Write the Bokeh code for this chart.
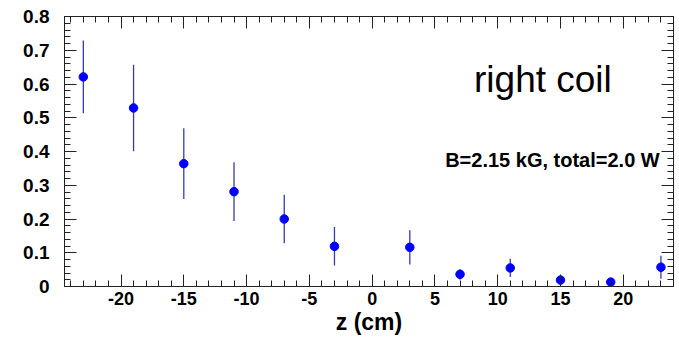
from bokeh.plotting import figure
from bokeh.models import (ColumnDataSource, LinearAxis, FixedTicker, Whisker, Label,
                          CustomJSTickFormatter, Range1d)
from bokeh.embed import file_html
from bokeh.resources import INLINE

# ---- data ----
z_cm = [-23, -19, -15, -11, -7, -3, 3, 7, 11, 15, 19, 23]
power = [0.621, 0.529, 0.364, 0.281, 0.200, 0.119, 0.116, 0.036, 0.055, 0.019, 0.013, 0.057]
power_err = [0.108, 0.128, 0.105, 0.087, 0.072, 0.057, 0.051, 0.016, 0.027, 0.010, 0.005, 0.034]

x_major = [-20, -15, -10, -5, 0, 5, 10, 15, 20]
x_minor = list(range(-24, 25))
y_major = [0, 0.1, 0.2, 0.3, 0.4, 0.5, 0.6, 0.7, 0.8]
y_minor = [i / 50 for i in range(0, 41)]

title_text = "right coil"
info_text = "B=2.15 kG, total=2.0 W"
x_label = "z (cm)"

lower = [v - e for v, e in zip(power, power_err)]
upper = [v + e for v, e in zip(power, power_err)]
src = ColumnDataSource(dict(x=z_cm, y=power, lower=lower, upper=upper))

FONT = "Liberation Sans"

p = figure(width=679, height=341, output_backend="svg", toolbar_location=None,
           x_range=Range1d(-24.5, 24), y_range=Range1d(0, 0.8),
           x_axis_type=None, y_axis_type=None,
           min_border_left=64, min_border_right=6, min_border_top=16, min_border_bottom=55)
p.grid.visible = False
p.outline_line_color = "#222222"
p.outline_line_width = 1
p.background_fill_color = "white"
p.border_fill_color = "white"


def style_axis(ax, labels=True):
    ax.major_tick_in = 12
    ax.major_tick_out = 0
    ax.minor_tick_in = 6
    ax.minor_tick_out = 0
    ax.axis_line_color = "#222222"
    ax.major_tick_line_color = "#222222"
    ax.minor_tick_line_color = "#222222"
    ax.major_label_text_color = "black"
    ax.axis_label_text_color = "black"
    if not labels:
        ax.major_label_text_font_size = "0px"
        ax.major_label_standoff = 0
        ax.formatter = CustomJSTickFormatter(code="return '';")


xt = FixedTicker(ticks=x_major, minor_ticks=x_minor)
yt = FixedTicker(ticks=y_major, minor_ticks=y_minor)

xb = LinearAxis(ticker=xt)
style_axis(xb)
xb.formatter = CustomJSTickFormatter(code="return tick.toFixed(0);")
xb.major_label_text_font = FONT
xb.major_label_text_font_style = "bold"
xb.major_label_text_font_size = "18px"
xb.major_label_standoff = 5
xb.axis_label = x_label
xb.axis_label_text_font = FONT
xb.axis_label_text_font_style = "bold"
xb.axis_label_text_font_size = "23px"
xb.axis_label_standoff = 1
p.add_layout(xb, "below")

yl = LinearAxis(ticker=yt)
style_axis(yl)
yl.formatter = CustomJSTickFormatter(code="return tick == 0 ? '0' : tick.toFixed(1);")
yl.major_label_text_font = FONT
yl.major_label_text_font_style = "bold"
yl.major_label_text_font_size = "19px"
yl.major_label_standoff = 15
p.add_layout(yl, "left")

xt2 = LinearAxis(ticker=FixedTicker(ticks=x_major, minor_ticks=x_minor))
style_axis(xt2, labels=False)
p.add_layout(xt2, "above")

yr = LinearAxis(ticker=FixedTicker(ticks=y_major, minor_ticks=y_minor))
style_axis(yr, labels=False)
p.add_layout(yr, "right")

err = Whisker(source=src, base="x", lower="lower", upper="upper", dimension="height",
              line_color="#3a3ab0", line_width=1.3, lower_head=None, upper_head=None)
p.add_layout(err)

p.scatter("x", "y", source=src, size=8.5, color="#0000ff", marker="circle")

p.add_layout(Label(x=13.6, y=0.612, text=title_text, text_align="center",
                   text_baseline="alphabetic", text_font=FONT, text_font_size="37px",
                   text_color="black"))
p.add_layout(Label(x=22.9, y=0.375, text=info_text, text_align="right",
                   text_baseline="alphabetic", text_font=FONT, text_font_style="bold",
                   text_font_size="20px", text_color="black"))

open("out.html", "w").write(file_html(p, INLINE))
